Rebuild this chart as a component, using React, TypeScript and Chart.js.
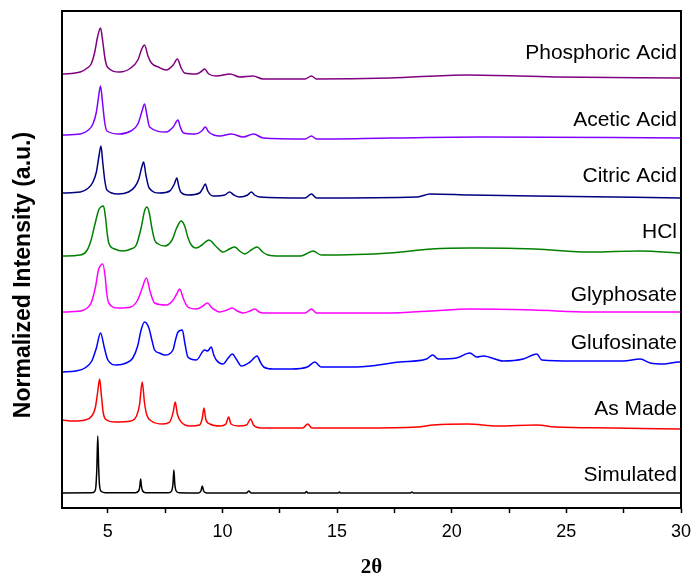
import React, { useEffect, useRef } from "react";
import { Chart, registerables } from "chart.js";

Chart.register(...registerables);

type Pt = [number, number];

const seriesNames = [
  "Phosphoric Acid",
  "Acetic Acid",
  "Citric Acid",
  "HCl",
  "Glyphosate",
  "Glufosinate",
  "As Made",
  "Simulated",
];

const seriesColors = ["#800080", "#8000FF", "#000080", "#008000", "#FF00FF", "#0000FF", "#FF0000", "#000000"];

const phosphoric: Pt[] = [
  [3, 434], [3.8, 436], [4.1, 440], [4.27, 444], [4.42, 455], [4.56, 472], [4.68, 480], [4.78, 466], [4.88, 449],
  [4.98, 441], [5.51, 436], [6.0, 440], [6.31, 448], [6.48, 459], [6.6, 463], [6.75, 452], [6.9, 445], [7.2, 441],
  [7.55, 438], [7.85, 443], [8.03, 449], [8.2, 440], [8.35, 435], [8.86, 434], [9.1, 437], [9.22, 439], [9.4, 434],
  [9.73, 432], [10.34, 434], [10.75, 431], [11.33, 432], [11.77, 429], [13.6, 429], [13.88, 432], [14.1, 429],
  [17.3, 430], [20.65, 433], [24.5, 431], [30, 430],
];

const acetic: Pt[] = [
  [3, 373], [3.8, 374], [4.15, 378], [4.35, 384], [4.5, 396], [4.6, 412], [4.68, 422], [4.77, 405], [4.86, 386],
  [4.96, 377], [5.51, 374], [6.0, 377], [6.31, 384], [6.48, 396], [6.6, 404], [6.71, 392], [6.82, 381], [7.55, 376],
  [7.85, 381], [8.06, 388], [8.16, 381], [8.3, 375], [8.8, 374], [9.1, 377], [9.25, 381], [9.4, 376], [9.88, 372],
  [10.39, 374], [10.9, 371], [11.36, 374], [11.77, 370], [13.6, 369], [13.88, 372], [14.1, 369], [17.3, 370],
  [21.23, 371], [30, 370],
];

const citric: Pt[] = [
  [3, 315], [3.8, 316], [4.15, 320], [4.35, 326], [4.5, 336], [4.62, 353], [4.7, 362], [4.78, 345], [4.87, 327],
  [4.96, 318], [5.44, 314], [5.9, 316], [6.17, 321], [6.35, 329], [6.48, 341], [6.56, 346], [6.66, 333], [6.8, 320],
  [7.26, 315], [7.7, 317], [7.9, 324], [8.01, 330], [8.09, 322], [8.18, 316], [8.5, 313], [9.0, 315], [9.15, 320],
  [9.25, 324], [9.36, 317], [9.59, 312], [10.1, 313], [10.31, 316], [10.5, 313], [10.75, 311], [11.1, 313],
  [11.26, 316], [11.4, 313], [11.62, 311], [13.6, 310], [13.88, 314], [14.1, 310], [18.5, 311], [19.05, 314],
  [20.8, 313], [23.6, 312], [30, 310],
];

const hcl: Pt[] = [
  [3, 252], [3.8, 253], [4.1, 258], [4.27, 268], [4.45, 285], [4.6, 298], [4.7, 301], [4.81, 302], [4.9, 290],
  [4.97, 275], [5.04, 265], [5.3, 259], [5.66, 257], [6.0, 259], [6.24, 263], [6.45, 280], [6.6, 297], [6.7, 301],
  [6.8, 296], [6.92, 280], [7.04, 268], [7.2, 264], [7.48, 262], [7.8, 268], [8.0, 280], [8.2, 287], [8.35, 282],
  [8.5, 270], [8.64, 263], [8.86, 260], [9.1, 263], [9.41, 268], [9.7, 262], [10.02, 256], [10.3, 259], [10.53, 261],
  [10.75, 257], [10.97, 254], [11.25, 258], [11.51, 261], [11.75, 256], [11.99, 253], [12.5, 252], [13.4, 252],
  [13.65, 254], [13.95, 257], [14.3, 253], [17.3, 255], [19.12, 259], [20.8, 260], [21.23, 260], [23.63, 259],
  [26.04, 256], [28.22, 257], [30, 255],
];

const glyphosate: Pt[] = [
  [3, 196], [3.8, 197], [4.1, 200], [4.27, 205], [4.45, 220], [4.6, 239], [4.7, 243], [4.78, 244],
  [4.88, 232], [4.95, 215], [5.04, 205], [5.44, 200], [6.0, 201], [6.3, 208], [6.5, 220], [6.68, 230], [6.85, 216],
  [7.04, 205], [7.55, 203], [7.85, 208], [8.0, 214], [8.13, 219], [8.3, 209], [8.49, 201], [8.86, 199], [9.15, 202],
  [9.34, 205], [9.55, 200], [9.88, 196], [10.2, 198], [10.42, 200], [10.65, 197], [10.9, 195], [11.2, 197],
  [11.41, 199], [11.6, 196], [11.77, 195], [13.6, 195], [13.88, 199], [14.1, 195], [17.3, 195], [19.05, 197],
  [20.8, 199], [23.56, 198], [26.04, 196], [30, 196],
];

const glufosinate: Pt[] = [
  [3, 136], [3.6, 137], [4.0, 140], [4.3, 147], [4.5, 160], [4.68, 175], [4.85, 160], [5.0, 148], [5.37, 143],
  [5.8, 145], [6.09, 150], [6.3, 162], [6.45, 178], [6.6, 186], [6.79, 180], [6.92, 168], [7.04, 158], [7.25, 155],
  [7.48, 153], [7.84, 158], [7.95, 168], [8.06, 176], [8.25, 178], [8.35, 166], [8.49, 151], [8.86, 148], [9.22, 158],
  [9.35, 157], [9.51, 161], [9.62, 153], [9.73, 148], [10.02, 144], [10.25, 150], [10.43, 154], [10.6, 149],
  [10.82, 142], [11.2, 146], [11.51, 152], [11.65, 146], [11.8, 141], [12.2, 139], [13, 139], [13.7, 141],
  [14.03, 146], [14.3, 141], [15.85, 141], [17.74, 146], [18.9, 149], [19.17, 153], [19.41, 149], [20.2, 150],
  [20.79, 155], [21.09, 151], [21.38, 152], [22.25, 147], [23.12, 149], [23.71, 154], [23.93, 148], [25.31, 147],
  [27.49, 147], [28.22, 149], [28.66, 145], [29.24, 144], [29.9, 146], [30, 146],
];

const asMade: Pt[] = [
  [3, 88], [3.5, 87], [4.0, 88], [4.3, 92], [4.45, 100], [4.55, 115], [4.64, 129], [4.72, 112], [4.8, 95], [4.95, 88],
  [5.3, 86], [6.0, 87], [6.25, 92], [6.38, 103], [6.5, 126], [6.6, 105], [6.7, 93], [6.9, 87], [7.4, 84], [7.7, 86],
  [7.85, 96], [7.94, 106], [8.03, 94], [8.2, 86], [8.6, 82], [9.0, 83], [9.12, 90], [9.19, 100], [9.27, 89],
  [9.45, 84], [9.9, 82], [10.15, 84], [10.27, 91], [10.37, 84], [10.7, 82], [11.05, 83], [11.23, 89], [11.35, 83],
  [11.7, 80], [13.5, 80], [13.72, 84], [13.9, 80], [16, 80], [18.5, 81], [19.2, 83], [20.7, 84], [22, 82],
  [23.7, 83], [24.5, 81], [27, 80], [30, 79],
];

const simulated: Pt[] = [
  [3, 15], [4.3, 15.2], [4.42, 16.5], [4.48, 22], [4.52, 40], [4.56, 72], [4.6, 40], [4.64, 22], [4.72, 16.5],
  [4.9, 15.3], [6.2, 15.2], [6.34, 17], [6.39, 21], [6.43, 29], [6.47, 21], [6.52, 17], [6.65, 15.3], [7.65, 15.2],
  [7.78, 17], [7.84, 24], [7.88, 38], [7.92, 24], [7.98, 17], [8.1, 15.3], [8.95, 15.1], [9.06, 17], [9.12, 22],
  [9.18, 17], [9.3, 15.1], [11.05, 15], [11.15, 17], [11.25, 15], [13.6, 15], [13.66, 16.5], [13.72, 15], [15.05, 15],
  [15.1, 16], [15.15, 15], [18.2, 15], [18.26, 16], [18.32, 15], [30, 15],
];

const xTickStep = 2.5;
const xMin = 3;
const xMax = 30;
const yMax = 497;

const allSeries: Pt[][] = [phosphoric, acetic, citric, hcl, glyphosate, glufosinate, asMade, simulated];

const labelValues = [455, 388, 332, 276, 213, 165, 99, 33];

const SANS = "'Liberation Sans', Arial, sans-serif";
const SERIF = "'Liberation Serif', 'Times New Roman', serif";

const overlayPlugin = {
  id: "overlay",
  afterDraw(chart: any) {
    const { ctx, chartArea, scales } = chart;
    const xs = scales.x;
    const ys = scales.y;
    ctx.save();
    ctx.strokeStyle = "#000";
    ctx.lineWidth = 2;
    ctx.strokeRect(chartArea.left, chartArea.top, chartArea.right - chartArea.left, chartArea.bottom - chartArea.top);
    ctx.fillStyle = "#000";
    ctx.font = `21px ${SANS}`;
    ctx.textAlign = "right";
    ctx.textBaseline = "middle";
    seriesNames.forEach((name, i) => {
      ctx.fillText(name, xs.getPixelForValue(xMax) - 4, ys.getPixelForValue(labelValues[i]));
    });
    ctx.font = `bold 21px ${SERIF}`;
    ctx.textAlign = "center";
    ctx.fillText("2θ", (chartArea.left + chartArea.right) / 2, 568);
    ctx.translate(24, 275);
    ctx.rotate(-Math.PI / 2);
    ctx.font = `bold 23px ${SANS}`;
    ctx.fillText("Normalized Intensity (a.u.)", 0, 0);
    ctx.restore();
  },
};

export default function App() {
  const ref = useRef<HTMLCanvasElement | null>(null);
  useEffect(() => {
    document.body.style.margin = "0";
    if (!ref.current) return;
    const chart = new Chart(ref.current, {
      type: "line",
      data: {
        datasets: allSeries.map((s, i) => ({
          label: seriesNames[i],
          data: s.map(([x, y]) => ({ x, y })),
          borderColor: seriesColors[i],
          borderWidth: 1.5,
          pointRadius: 0,
          fill: false,
          cubicInterpolationMode: "monotone" as const,
        })),
      },
      options: {
        responsive: false,
        animation: false,
        layout: { padding: { left: 62, right: 11, top: 11, bottom: 0 } },
        plugins: { legend: { display: false }, tooltip: { enabled: false }, title: { display: false } },
        scales: {
          x: {
            type: "linear",
            min: xMin,
            max: xMax,
            afterFit: (s: any) => {
              s.height = 69;
              s.paddingLeft = 0;
              s.paddingRight = 0;
            },
            ticks: {
              stepSize: xTickStep,
              includeBounds: false,
              autoSkip: false,
              maxRotation: 0,
              padding: 8,
              color: "#000",
              font: { size: 18, family: SANS },
              callback: (v: any) => (Number(v) % 5 === 0 ? String(v) : ""),
            },
            grid: { drawOnChartArea: false, drawTicks: true, tickLength: 5, tickColor: "#000", tickWidth: 1.5 },
            border: { display: true, color: "#000", width: 2 },
          },
          y: { display: false, min: 0, max: yMax },
        },
      },
      plugins: [overlayPlugin],
    } as any);
    return () => chart.destroy();
  }, []);
  return (
    <div style={{ width: 692, height: 577 }}>
      <canvas ref={ref} width={692} height={577} />
    </div>
  );
}
